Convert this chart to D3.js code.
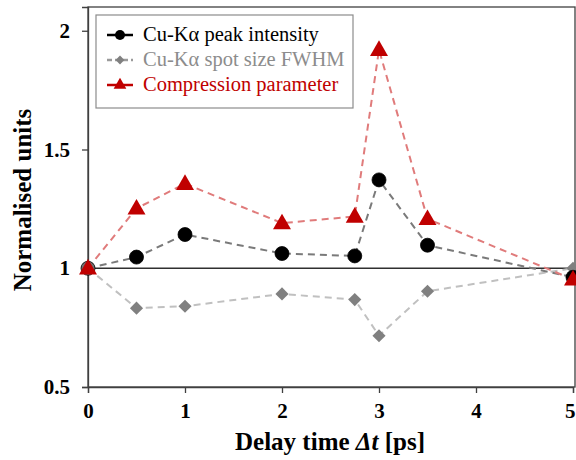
<!DOCTYPE html>
<html>
<head>
<meta charset="utf-8">
<script src="https://cdn.jsdelivr.net/npm/d3@7"></script>
<style>
  body { margin: 0; background: #fff; }
</style>
</head>
<body>
<div id="chart"></div>
<script>
// Values
var delays = [0, 0.5, 1, 2, 2.75, 3, 3.5, 5];
var peakIntensity = [1, 1.047, 1.142, 1.062, 1.052, 1.372, 1.097, 0.962];
var spotFwhm = [1, 0.832, 0.84, 0.892, 0.868, 0.716, 0.903, 1.0];
var compression = [1, 1.252, 1.356, 1.19, 1.218, 1.92, 1.208, 0.953];
var xTicks = [0, 1, 2, 3, 4, 5];
var yTicks = [0.5, 1, 1.5, 2];
var seriesNames = ["Cu-K\u03b1 peak intensity", "Cu-K\u03b1 spot size FWHM", "Compression parameter"];

var serif = "'Liberation Serif', 'Times New Roman', serif";
var width = 576, height = 460;
var margin = { left: 88, right: 1, top: 7, bottom: 73 };

var svg = d3.select("#chart").append("svg")
  .attr("width", width)
  .attr("height", height)
  .style("font-family", serif);

var x = d3.scaleLinear().domain([0, 5]).range([margin.left, width - margin.right - 2]);
var y = d3.scaleLinear().domain([0.5, 2.1]).range([height - margin.bottom, margin.top]);

// Plot frame
svg.append("rect")
  .attr("x", margin.left)
  .attr("y", margin.top)
  .attr("width", width - margin.right - margin.left)
  .attr("height", y(0.5) - margin.top)
  .attr("fill", "none")
  .attr("stroke", "#404040")
  .attr("stroke-width", 1.3);

// Axes
var xAxis = svg.append("g")
  .attr("transform", "translate(0," + y(0.5) + ")")
  .call(d3.axisBottom(x).tickValues(xTicks).tickSize(6).tickPadding(10).tickFormat(d3.format("d")));
var yAxis = svg.append("g")
  .attr("transform", "translate(" + margin.left + ",0)")
  .call(d3.axisLeft(y).tickValues(yTicks).tickSize(6).tickPadding(12).tickFormat(function(d) { return d; }));

[xAxis, yAxis].forEach(function(a) {
  a.attr("font-family", null).attr("font-size", null);
  a.select(".domain").attr("stroke", "#404040").attr("stroke-width", 1.3);
  a.selectAll(".tick line").attr("stroke", "#404040").attr("stroke-width", 1.3);
  a.selectAll(".tick text")
    .attr("fill", "#000")
    .style("font-family", serif)
    .style("font-size", "21px")
    .style("font-weight", "bold");
});
// keep the last x label inside the page
xAxis.selectAll(".tick text").filter(function(d) { return d === 5; }).attr("text-anchor", "end").attr("dx", "0.1em");

// Reference line at 1
svg.append("line")
  .attr("x1", x(0)).attr("x2", width - margin.right)
  .attr("y1", y(1)).attr("y2", y(1))
  .attr("stroke", "#303030")
  .attr("stroke-width", 1.3);

function lineFor(values) {
  return d3.line()
    .x(function(d, i) { return x(delays[i]); })
    .y(function(d) { return y(d); })(values);
}

var dash = "7,5";

// FWHM
svg.append("path")
  .attr("d", lineFor(spotFwhm))
  .attr("fill", "none")
  .attr("stroke", "#c0c0c0")
  .attr("stroke-width", 2)
  .attr("stroke-dasharray", dash);
// Intensity
svg.append("path")
  .attr("d", lineFor(peakIntensity))
  .attr("fill", "none")
  .attr("stroke", "#7a7a7a")
  .attr("stroke-width", 2)
  .attr("stroke-dasharray", dash);
// Compression
svg.append("path")
  .attr("d", lineFor(compression))
  .attr("fill", "none")
  .attr("stroke", "#e07b7b")
  .attr("stroke-width", 2)
  .attr("stroke-dasharray", dash);

var diamond = d3.symbol().type(d3.symbolDiamond2).size(110);
var triangle = d3.symbol().type(d3.symbolTriangle).size(140);

svg.append("g").selectAll("path")
  .data(spotFwhm)
  .join("path")
  .attr("d", diamond)
  .attr("transform", function(d, i) { return "translate(" + x(delays[i]) + "," + y(d) + ")"; })
  .attr("fill", "#808080");

svg.append("g").selectAll("circle")
  .data(peakIntensity)
  .join("circle")
  .attr("cx", function(d, i) { return x(delays[i]); })
  .attr("cy", function(d) { return y(d); })
  .attr("r", 7)
  .attr("fill", function(d, i) { return i === 0 ? "#707070" : "#000"; })
  .attr("stroke", "#000")
  .attr("stroke-width", 0.8);

svg.append("g").selectAll("path")
  .data(compression)
  .join("path")
  .attr("d", triangle)
  .attr("transform", function(d, i) { return "translate(" + x(delays[i]) + "," + (y(d) + 1) + ")"; })
  .attr("fill", "#c00000");

// Legend
var legend = svg.append("g").attr("transform", "translate(96,15)");
legend.append("rect")
  .attr("width", 257).attr("height", 93)
  .attr("fill", "#fff")
  .attr("stroke", "#8c8c8c")
  .attr("stroke-width", 1.2);

var legendStyles = [
  { color: "#000", line: "#000", text: "#000", mark: "circle" },
  { color: "#808080", line: "#9a9a9a", text: "#8c8c8c", mark: "diamond" },
  { color: "#c00000", line: "#c00000", text: "#c00000", mark: "triangle" }
];

seriesNames.forEach(function(name, i) {
  var s = legendStyles[i];
  var row = legend.append("g").attr("transform", "translate(0," + (20 + i * 25) + ")");
  row.append("line")
    .attr("x1", 11).attr("x2", 37)
    .attr("stroke", s.line)
    .attr("stroke-width", 2.5)
    .attr("stroke-dasharray", i === 1 ? "5,3" : null);
  if (s.mark === "circle") {
    row.append("circle").attr("cx", 24).attr("r", 5).attr("fill", s.color);
  } else if (s.mark === "diamond") {
    row.append("path").attr("d", d3.symbol().type(d3.symbolDiamond2).size(50)).attr("transform", "translate(24,0)").attr("fill", s.color);
  } else {
    row.append("path").attr("d", d3.symbol().type(d3.symbolTriangle).size(70)).attr("transform", "translate(24,0)").attr("fill", s.color);
  }
  row.append("text")
    .attr("x", 47).attr("y", 6)
    .attr("fill", s.text)
    .style("font-family", serif)
    .style("font-size", "20.5px")
    .text(name);
});

// Axis titles
svg.append("text")
  .attr("transform", "translate(31," + ((margin.top + y(0.5)) / 2 + 3) + ") rotate(-90)")
  .attr("text-anchor", "middle")
  .style("font-family", serif)
  .style("font-size", "25px")
  .style("font-weight", "bold")
  .text("Normalised units");

var xt = svg.append("text")
  .attr("x", 330)
  .attr("y", 450)
  .attr("text-anchor", "middle")
  .style("font-family", serif)
  .style("font-size", "25px")
  .style("font-weight", "bold");
xt.append("tspan").text("Delay time ");
xt.append("tspan").style("font-style", "italic").text("\u0394t");
xt.append("tspan").text(" [ps]");
</script>
</body>
</html>
